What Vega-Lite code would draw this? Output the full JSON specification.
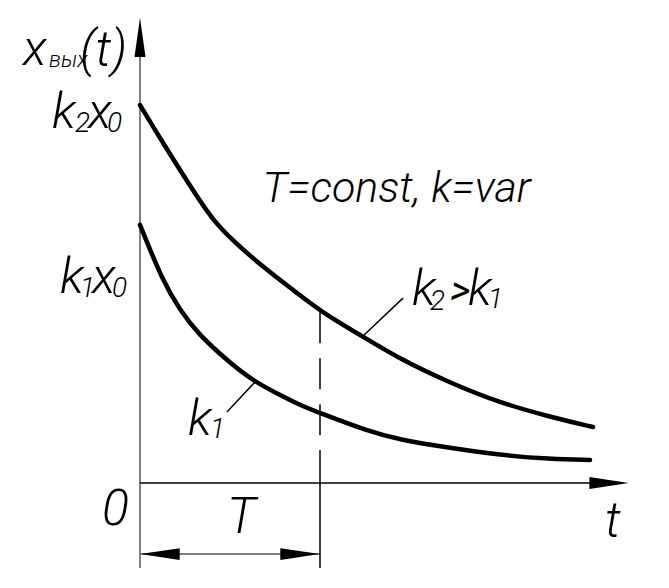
{
  "$schema": "https://vega.github.io/schema/vega-lite/v6.json",
  "width": 669,
  "height": 588,
  "autosize": {"type": "fit", "contains": "padding"},
  "padding": 0,
  "background": "white",
  "config": {"view": {"stroke": null}},
  "datasets": {
    "curves": [
      {"curve": "k2", "t": 0, "v": 1.0},
      {"curve": "k2", "t": 0.128, "v": 0.899},
      {"curve": "k2", "t": 0.317, "v": 0.757},
      {"curve": "k2", "t": 0.406, "v": 0.696},
      {"curve": "k2", "t": 0.5, "v": 0.648},
      {"curve": "k2", "t": 0.683, "v": 0.571},
      {"curve": "k2", "t": 0.872, "v": 0.503},
      {"curve": "k2", "t": 1.0, "v": 0.455},
      {"curve": "k2", "t": 1.239, "v": 0.387},
      {"curve": "k2", "t": 1.444, "v": 0.328},
      {"curve": "k2", "t": 1.722, "v": 0.265},
      {"curve": "k2", "t": 2.0, "v": 0.212},
      {"curve": "k2", "t": 2.278, "v": 0.175},
      {"curve": "k2", "t": 2.517, "v": 0.148},
      {"curve": "k1", "t": 0, "v": 0.683},
      {"curve": "k1", "t": 0.128, "v": 0.532},
      {"curve": "k1", "t": 0.222, "v": 0.458},
      {"curve": "k1", "t": 0.317, "v": 0.397},
      {"curve": "k1", "t": 0.5, "v": 0.317},
      {"curve": "k1", "t": 0.639, "v": 0.267},
      {"curve": "k1", "t": 0.778, "v": 0.233},
      {"curve": "k1", "t": 0.889, "v": 0.206},
      {"curve": "k1", "t": 1.0, "v": 0.185},
      {"curve": "k1", "t": 1.261, "v": 0.138},
      {"curve": "k1", "t": 1.444, "v": 0.114},
      {"curve": "k1", "t": 1.722, "v": 0.093},
      {"curve": "k1", "t": 2.0, "v": 0.074},
      {"curve": "k1", "t": 2.278, "v": 0.063},
      {"curve": "k1", "t": 2.5, "v": 0.061}
    ],
    "grayLines": [
      {"name": "ordinate", "t": 0, "v": -0.225, "t2": 0, "v2": 1.2},
      {"name": "dimension", "t": 0, "v": -0.188, "t2": 1, "v2": -0.188}
    ],
    "blackLines": [
      {"name": "abscissa", "t": 0, "v": 0, "t2": 2.55, "v2": 0},
      {"name": "extension", "t": 1, "v": 0.087, "t2": 1, "v2": -0.225},
      {"name": "leader k2>k1", "t": 1.239, "v": 0.389, "t2": 1.461, "v2": 0.489},
      {"name": "leader k1", "t": 0.639, "v": 0.267, "t2": 0.483, "v2": 0.188}
    ],
    "dashed": [
      {"name": "t=T", "t": 1, "v": 0.452, "t2": 1, "v2": 0.087}
    ],
    "arrows": [
      {"dir": "up", "t": 0, "v": 1.179},
      {"dir": "right", "t": 2.606, "v": 0},
      {"dir": "left", "t": 0.111, "v": -0.188},
      {"dir": "right", "t": 0.889, "v": -0.188}
    ],
    "bigText": [
      {"t": -0.65, "v": 1.106, "text": "x"},
      {"t": -0.333, "v": 1.103, "text": "(t)"},
      {"t": -0.489, "v": 0.939, "text": "k"},
      {"t": -0.289, "v": 0.939, "text": "x"},
      {"t": -0.444, "v": 0.503, "text": "k"},
      {"t": -0.267, "v": 0.503, "text": "x"},
      {"t": 1.511, "v": 0.471, "text": "k"},
      {"t": 1.822, "v": 0.471, "text": "k"},
      {"t": 0.267, "v": 0.127, "text": "k"},
      {"t": -0.211, "v": -0.111, "text": "0"},
      {"t": 0.483, "v": -0.132, "text": "T"},
      {"t": 2.583, "v": -0.143, "text": "t"}
    ],
    "phrase": [
      {"t": 0.68, "v": 0.743, "text": "T=const, k=var"}
    ],
    "relation": [
      {"t": 1.722, "v": 0.474, "text": ">"}
    ],
    "subscriptText": [
      {"t": -0.505, "v": 1.101, "text": "вых"}
    ],
    "smallText": [
      {"t": -0.361, "v": 0.929, "text": "2"},
      {"t": -0.183, "v": 0.929, "text": "0"},
      {"t": -0.333, "v": 0.492, "text": "1"},
      {"t": -0.156, "v": 0.492, "text": "0"},
      {"t": 1.611, "v": 0.458, "text": "2"},
      {"t": 1.933, "v": 0.463, "text": "1"},
      {"t": 0.389, "v": 0.119, "text": "1"}
    ]
  },
  "encoding": {
    "x": {"field": "t", "type": "quantitative", "axis": null,
          "scale": {"domain": [-0.77778, 2.93889], "nice": false, "zero": false}},
    "y": {"field": "v", "type": "quantitative", "axis": null,
          "scale": {"domain": [-0.27778, 1.27778], "nice": false, "zero": false}}
  },
  "layer": [
    {
      "data": {"name": "grayLines"},
      "mark": {"type": "rule", "color": "#808080", "strokeWidth": 2},
      "encoding": {"x2": {"field": "t2"}, "y2": {"field": "v2"}}
    },
    {
      "data": {"name": "blackLines"},
      "mark": {"type": "rule", "color": "black", "strokeWidth": 1.5},
      "encoding": {"x2": {"field": "t2"}, "y2": {"field": "v2"}}
    },
    {
      "data": {"name": "dashed"},
      "mark": {"type": "rule", "color": "black", "strokeWidth": 1.5, "strokeDash": [31, 15]},
      "encoding": {"x2": {"field": "t2"}, "y2": {"field": "v2"}}
    },
    {
      "data": {"name": "curves"},
      "mark": {"type": "line", "color": "black", "strokeWidth": 4.5, "interpolate": "basis", "strokeCap": "round"},
      "encoding": {"detail": {"field": "curve"}, "order": {"field": "t"}}
    },
    {
      "data": {"name": "arrows"},
      "mark": {"type": "point", "filled": true, "color": "black", "opacity": 1, "size": 1550, "strokeWidth": 0},
      "encoding": {
        "shape": {"field": "dir", "type": "nominal", "legend": null,
                  "scale": {"domain": ["up", "right", "left"],
                            "range": ["M0,-1L0.28,1L-0.28,1Z", "M1,0L-1,-0.3L-1,0.3Z", "M-1,0L1,-0.3L1,0.3Z"]}}
      }
    },
    {
      "data": {"name": "bigText"},
      "mark": {"type": "text", "align": "left", "baseline": "alphabetic", "fontSize": 50, "fontStyle": "italic", "fontWeight": 300,
               "font": "Roboto, Liberation Sans, sans-serif", "color": "black"},
      "encoding": {"text": {"field": "text"}}
    },
    {
      "data": {"name": "phrase"},
      "mark": {"type": "text", "align": "left", "baseline": "alphabetic", "fontSize": 43, "fontStyle": "italic", "fontWeight": 300,
               "font": "Roboto, Liberation Sans, sans-serif", "color": "black"},
      "encoding": {"text": {"field": "text"}}
    },
    {
      "data": {"name": "relation"},
      "mark": {"type": "text", "align": "left", "baseline": "alphabetic", "fontSize": 40, "fontStyle": "italic", "fontWeight": 400,
               "font": "Roboto, Liberation Sans, sans-serif", "color": "black"},
      "encoding": {"text": {"field": "text"}}
    },
    {
      "data": {"name": "subscriptText"},
      "mark": {"type": "text", "align": "left", "baseline": "alphabetic", "fontSize": 22, "fontStyle": "italic", "fontWeight": 300,
               "font": "Roboto, Liberation Sans, sans-serif", "color": "black"},
      "encoding": {"text": {"field": "text"}}
    },
    {
      "data": {"name": "smallText"},
      "mark": {"type": "text", "align": "left", "baseline": "alphabetic", "fontSize": 28, "fontStyle": "italic", "fontWeight": 300,
               "font": "Roboto, Liberation Sans, sans-serif", "color": "black"},
      "encoding": {"text": {"field": "text"}}
    }
  ]
}
